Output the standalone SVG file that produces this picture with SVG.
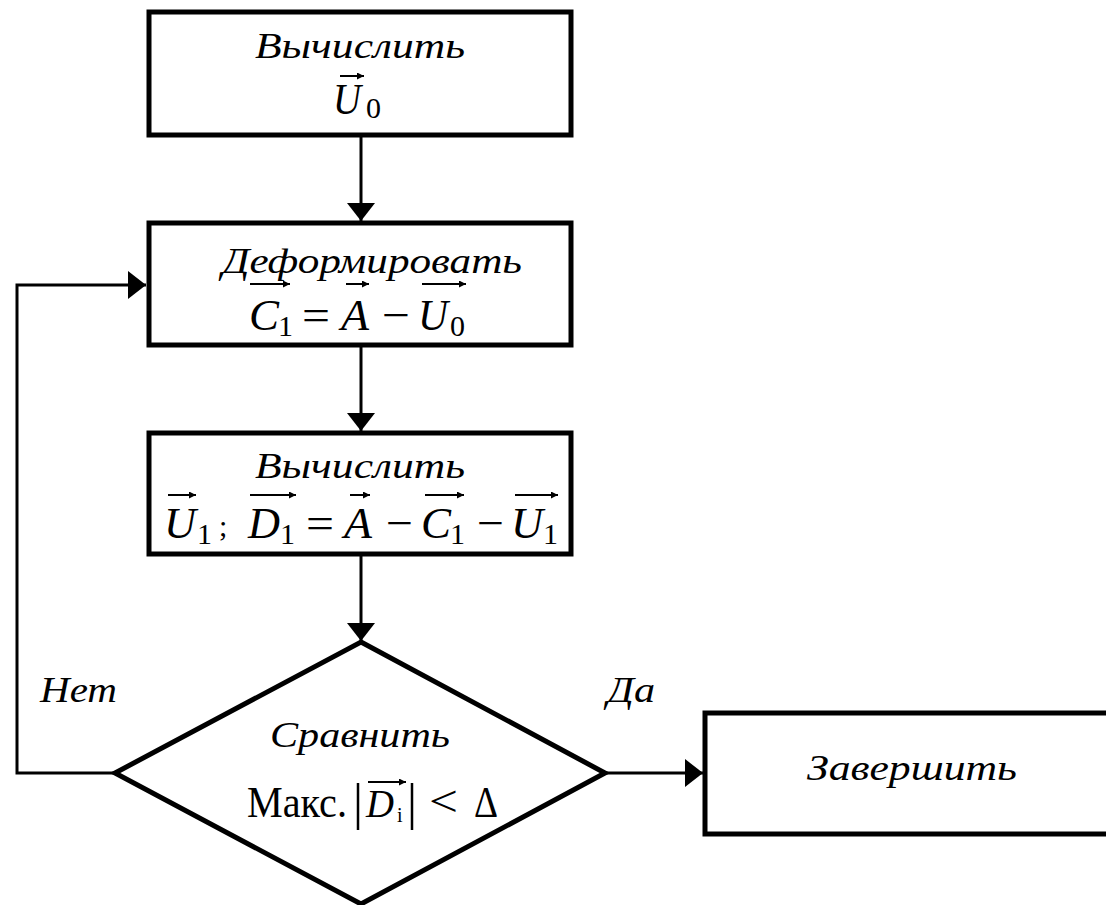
<svg xmlns="http://www.w3.org/2000/svg" width="1106" height="905" viewBox="0 0 1106 905">
<style>
.box{fill:#fff;stroke:#000;stroke-width:5}
.con{fill:none;stroke:#000;stroke-width:3}
.w{font-family:"Liberation Serif","DejaVu Serif",serif;font-style:italic;font-size:36px;fill:#000}
.m{font-family:"Liberation Serif",serif;font-style:italic;font-size:45px;fill:#000}
.r{font-family:"Liberation Serif",serif;font-size:44px;fill:#000}
.s{font-family:"Liberation Serif",serif;font-size:30px;fill:#000}
.v{fill:none;stroke:#000;stroke-width:2}
</style>
<defs>
<marker id="ah" markerUnits="userSpaceOnUse" markerWidth="18" markerHeight="28" refX="18" refY="14" orient="auto">
<path d="M0,0 L18,14 L0,28 z" fill="#000"/>
</marker>
<marker id="va" markerUnits="userSpaceOnUse" markerWidth="7" markerHeight="7" refX="7" refY="3.5" orient="auto">
<path d="M0,0 L7,3.5 L0,7 z" fill="#000"/>
</marker>
</defs>
<g id="connectors">
<line class="con" x1="361" y1="137" x2="361" y2="221" marker-end="url(#ah)"/>
<line class="con" x1="361" y1="347" x2="361" y2="431" marker-end="url(#ah)"/>
<line class="con" x1="361" y1="556" x2="361" y2="641" marker-end="url(#ah)"/>
<polyline class="con" points="115,773 17,773 17,285 146,285" marker-end="url(#ah)"/>
<line class="con" x1="605" y1="773" x2="703" y2="773" marker-end="url(#ah)"/>
<text class="w" x="40" y="702" textLength="77" lengthAdjust="spacingAndGlyphs">Нет</text>
<text class="w" x="607" y="702" textLength="48" lengthAdjust="spacingAndGlyphs">Да</text>
</g>
<g id="node1">
<rect class="box" x="149" y="12" width="422" height="123"/>
<text class="w" x="255" y="58" textLength="210" lengthAdjust="spacingAndGlyphs">Вычислить</text>
<text class="m" x="333" y="114" textLength="28" lengthAdjust="spacingAndGlyphs">U</text>
<text class="s" x="366" y="118">0</text>
<line class="v" x1="340" y1="76" x2="364" y2="76" marker-end="url(#va)"/>
</g>
<g id="node2">
<rect class="box" x="149" y="223" width="422" height="122"/>
<text class="w" x="222" y="273" textLength="300" lengthAdjust="spacingAndGlyphs">Деформировать</text>
<text class="m" x="249" y="330" textLength="30" lengthAdjust="spacingAndGlyphs">C</text>
<text class="s" x="278" y="336">1</text>
<text class="r" x="302" y="330" textLength="28" lengthAdjust="spacingAndGlyphs">=</text>
<text class="m" x="341" y="330" textLength="28" lengthAdjust="spacingAndGlyphs">A</text>
<text class="r" x="382" y="330" textLength="28" lengthAdjust="spacingAndGlyphs">−</text>
<text class="m" x="418" y="330" textLength="30" lengthAdjust="spacingAndGlyphs">U</text>
<text class="s" x="450" y="336">0</text>
<line class="v" x1="250" y1="284" x2="290" y2="284" marker-end="url(#va)"/>
<line class="v" x1="346" y1="284" x2="369" y2="284" marker-end="url(#va)"/>
<line class="v" x1="422" y1="284" x2="466" y2="284" marker-end="url(#va)"/>
</g>
<g id="node3">
<rect class="box" x="149" y="433" width="422" height="121"/>
<text class="w" x="255" y="478" textLength="210" lengthAdjust="spacingAndGlyphs">Вычислить</text>
<text class="m" x="164" y="538" textLength="32" lengthAdjust="spacingAndGlyphs">U</text>
<text class="s" x="197" y="544">1</text>
<text class="s" x="219" y="536">;</text>
<text class="m" x="248" y="538" textLength="32" lengthAdjust="spacingAndGlyphs">D</text>
<text class="s" x="280" y="544">1</text>
<text class="r" x="306" y="538" textLength="28" lengthAdjust="spacingAndGlyphs">=</text>
<text class="m" x="344" y="538" textLength="28" lengthAdjust="spacingAndGlyphs">A</text>
<text class="r" x="386" y="538" textLength="27" lengthAdjust="spacingAndGlyphs">−</text>
<text class="m" x="421" y="538" textLength="30" lengthAdjust="spacingAndGlyphs">C</text>
<text class="s" x="450" y="544">1</text>
<text class="r" x="477" y="538" textLength="27" lengthAdjust="spacingAndGlyphs">−</text>
<text class="m" x="511" y="538" textLength="32" lengthAdjust="spacingAndGlyphs">U</text>
<text class="s" x="543" y="544">1</text>
<line class="v" x1="168" y1="495" x2="196" y2="495" marker-end="url(#va)"/>
<line class="v" x1="250" y1="495" x2="296" y2="495" marker-end="url(#va)"/>
<line class="v" x1="350" y1="495" x2="370" y2="495" marker-end="url(#va)"/>
<line class="v" x1="425" y1="495" x2="464" y2="495" marker-end="url(#va)"/>
<line class="v" x1="515" y1="495" x2="558" y2="495" marker-end="url(#va)"/>
</g>
<g id="node4">
<polygon class="box" points="361,642 605,773 361,904 115,773"/>
<text class="w" x="270" y="747" textLength="180" lengthAdjust="spacingAndGlyphs">Сравнить</text>
<text class="r" x="247" y="817" textLength="100" lengthAdjust="spacingAndGlyphs">Макс.</text>
<line x1="358" y1="783" x2="358" y2="830" stroke="#000" stroke-width="2.5"/>
<text class="m" x="366" y="817" style="font-size:40px" textLength="28" lengthAdjust="spacingAndGlyphs">D</text>
<text class="s" x="397" y="822" style="font-size:20px">i</text>
<line class="v" x1="368" y1="782" x2="406" y2="782" marker-end="url(#va)"/>
<line x1="412" y1="783" x2="412" y2="830" stroke="#000" stroke-width="2.5"/>
<text class="r" x="429" y="816" textLength="29" lengthAdjust="spacingAndGlyphs">&lt;</text>
<text class="r" x="474" y="817" textLength="24" lengthAdjust="spacingAndGlyphs">Δ</text>
</g>
<g id="node5">
<rect class="box" x="705" y="713" width="420" height="121"/>
<text class="w" x="807" y="780" textLength="210" lengthAdjust="spacingAndGlyphs">Завершить</text>
</g>
</svg>
